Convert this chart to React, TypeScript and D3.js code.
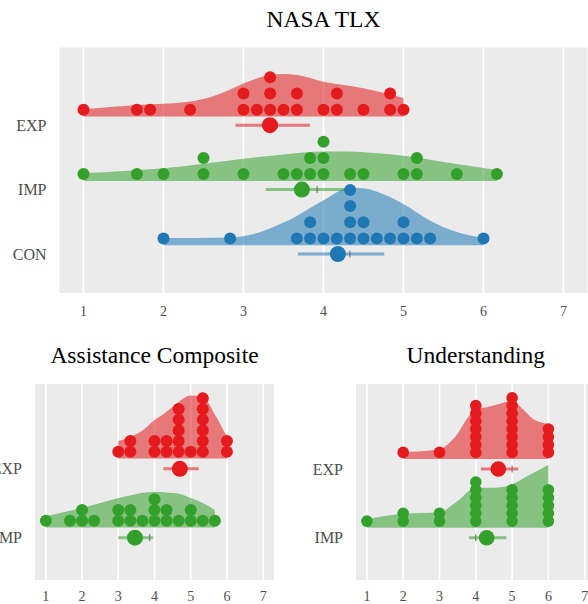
import React from "react";
import * as d3 from "d3";

// axis ticks shared by all three panels
const xTicks = [1, 2, 3, 4, 5, 6, 7];
const groupNames = ["EXP", "IMP", "CON"];
const groupColors = ["#e41a1c", "#33a02c", "#1f78b4"];

// NASA TLX raw scores
const tlxExp = [1, 1.667, 1.833, 2.333, 3, 3, 3.167, 3.333, 3.333, 3.333, 3.5, 3.667, 3.667, 4, 4.167, 4.167, 4.5, 4.833, 4.833, 5];
const tlxImp = [1, 1.667, 2, 2.5, 2.5, 3, 3.5, 3.667, 3.833, 3.833, 4, 4, 4, 4.333, 4.5, 5, 5.167, 5.167, 5.667, 6.167];
const tlxCon = [2, 2.833, 3.667, 3.833, 3.833, 4, 4.167, 4.333, 4.333, 4.333, 4.333, 4.5, 4.5, 4.667, 4.833, 5, 5, 5.167, 5.333, 6];
const tlxMean = [3.33, 3.73, 4.18];
const tlxLow = [2.9, 3.28, 3.68];
const tlxHigh = [3.83, 4.29, 4.76];
const tlxMedian = [3.42, 3.92, 4.33];
// density outlines [x, relative height]
const tlxExpDens = [[1, 0.12], [1.667, 0.19], [2.333, 0.25], [2.6, 0.33], [2.8, 0.43], [3, 0.55], [3.333, 0.69], [3.5, 0.71], [3.667, 0.69], [4, 0.58], [4.5, 0.47], [5, 0.31]];
const tlxImpDens = [[1, 0.13], [2, 0.21], [3, 0.37], [3.5, 0.44], [4, 0.49], [4.3, 0.49], [4.667, 0.46], [5, 0.42], [5.667, 0.28], [6.167, 0.18]];
const tlxConDens = [[2, 0.12], [2.833, 0.13], [3.1, 0.18], [3.25, 0.24], [3.5, 0.38], [3.667, 0.49], [4, 0.75], [4.333, 0.96], [4.5, 0.95], [4.75, 0.85], [5, 0.69], [5.333, 0.41], [5.667, 0.22], [6, 0.12]];

// Assistance Composite
const asstExp = [3, 3.333, 3.333, 4, 4, 4.333, 4.333, 4.667, 4.667, 4.667, 4.667, 4.667, 5, 5.333, 5.333, 5.333, 5.333, 5.333, 5.333, 6, 6];
const asstImp = [1, 1.667, 2, 2, 2.333, 3, 3, 3.333, 3.333, 3.667, 4, 4, 4, 4.333, 4.333, 4.667, 5, 5, 5.333, 5.667];
const asstMean = [4.7, 3.46];
const asstLow = [4.24, 3.0];
const asstHigh = [5.22, 3.96];
const asstMedian = [4.67, 3.87];
const asstExpDens = [[3, 0.25], [3.333, 0.31], [3.667, 0.4], [4, 0.55], [4.333, 0.67], [4.667, 0.81], [5, 0.9], [5.25, 0.89], [5.43, 0.83], [5.7, 0.6], [6, 0.31]];
const asstImpDens = [[1, 0.16], [1.57, 0.23], [2, 0.28], [2.5, 0.35], [3, 0.42], [3.5, 0.48], [4, 0.51], [4.333, 0.5], [4.7, 0.48], [5, 0.42], [5.333, 0.35], [5.667, 0.25]];

// Understanding
const undExp = [2, 3, 4, 4, 4, 4, 4, 4, 4, 5, 5, 5, 5, 5, 5, 5, 5, 6, 6, 6, 6];
const undImp = [1, 2, 2, 3, 3, 4, 4, 4, 4, 4, 4, 5, 5, 5, 5, 5, 6, 6, 6, 6, 6];
const undMean = [4.62, 4.3];
const undLow = [4.14, 3.81];
const undHigh = [5.17, 4.84];
const undMedian = [5, 4];
const undExpDens = [[2, 0.1], [3, 0.14], [3.29, 0.24], [3.5, 0.36], [3.75, 0.57], [4, 0.71], [4.3, 0.74], [4.667, 0.79], [5, 0.83], [5.3, 0.71], [5.58, 0.57], [6, 0.5]];
const undImpDens = [[1, 0.12], [2, 0.2], [3, 0.22], [3.5, 0.38], [4, 0.57], [4.5, 0.57], [5, 0.62], [5.5, 0.76], [6, 0.9]];

const FONT = "'Liberation Serif', 'Times New Roman', serif";

function makeGroups(vals, dens, mean, lo, hi, med) {
  return vals.map((v, i) => ({
    name: groupNames[i], color: groupColors[i], values: v, dens: dens[i],
    mean: mean[i], lo: lo[i], hi: hi[i], med: med[i],
  }));
}

function Panel({ title, left, right, top, bottom, rowTop, rowBottom, groups, r, step, gap, densH, meanR, tickDy }) {
  const x = d3.scaleLinear().domain([0.7, 7.3]).range([left, right]);
  const y = d3.scalePoint().domain(groups.map(g => g.name)).range([rowTop, rowBottom]);
  const dh = d3.scaleLinear().domain([0, 1]).range([0, densH]);

  return (
    <g>
      <text x={(left + right) / 2} y={top - 21} textAnchor="middle" fontFamily={FONT} fontSize={23.5} fill="#000">{title}</text>
      <rect x={left} y={top} width={right - left} height={bottom - top} fill="#ebebeb" />
      {xTicks.map(t => (
        <g key={t}>
          <line x1={x(t)} x2={x(t)} y1={top} y2={bottom} stroke="#fff" strokeWidth={1.7} />
          <text x={x(t)} y={bottom + tickDy} textAnchor="middle" fontFamily={FONT} fontSize={14} fill="#4d4d4d">{t}</text>
        </g>
      ))}
      {groups.map(g => {
        const row = y(g.name);
        const base = row - gap;
        const area = d3.area()
          .x(d => x(d[0]))
          .y0(base)
          .y1(d => base - dh(d[1]))
          .curve(d3.curveMonotoneX);
        const stacks = d3.groups(g.values, v => Math.round(v * 1000));
        return (
          <g key={g.name}>
            <text x={left - 13} y={row + 5.5} textAnchor="end" fontFamily={FONT} fontSize={16} fill="#4d4d4d">{g.name}</text>
            <path d={area(g.dens)} fill={g.color} fillOpacity={0.55} />
            {stacks.map(([k, vs]) =>
              vs.map((v, j) => (
                <circle key={k + "-" + j} cx={x(v)} cy={base - r - 0.8 - j * step} r={r} fill={g.color} />
              ))
            )}
            <line x1={x(g.lo)} x2={x(g.hi)} y1={row} y2={row} stroke={g.color} strokeOpacity={0.55} strokeWidth={3} />
            <line x1={x(g.med)} x2={x(g.med)} y1={row - 3.5} y2={row + 3.5} stroke="#666" strokeWidth={1} />
            <circle cx={x(g.mean)} cy={row} r={meanR} fill={g.color} />
          </g>
        );
      })}
    </g>
  );
}

export default function App() {
  const tlx = makeGroups([tlxExp, tlxImp, tlxCon], [tlxExpDens, tlxImpDens, tlxConDens], tlxMean, tlxLow, tlxHigh, tlxMedian);
  const asst = makeGroups([asstExp, asstImp], [asstExpDens, asstImpDens], asstMean, asstLow, asstHigh, asstMedian);
  const und = makeGroups([undExp, undImp], [undExpDens, undImpDens], undMean, undLow, undHigh, undMedian);

  return (
    <svg width={588} height={604} style={{ position: "absolute", left: 0, top: 0, background: "#fff" }}>
      <Panel title="NASA TLX" left={59.5} right={587.5} top={47.5} bottom={293}
        rowTop={125.2} rowBottom={254} groups={tlx} r={6} step={16.2} gap={8.7} densH={60} meanR={8} tickDy={23} />
      <Panel title="Assistance Composite" left={35} right={274} top={384} bottom={580}
        rowTop={468.8} rowBottom={537.7} groups={asst} r={6} step={10.7} gap={10.2} densH={70} meanR={8} tickDy={21} />
      <Panel title="Understanding" left={356} right={595.6} top={384} bottom={580}
        rowTop={469} rowBottom={537.7} groups={und} r={5.8} step={7.8} gap={10} densH={70} meanR={7.8} tickDy={21} />
    </svg>
  );
}
